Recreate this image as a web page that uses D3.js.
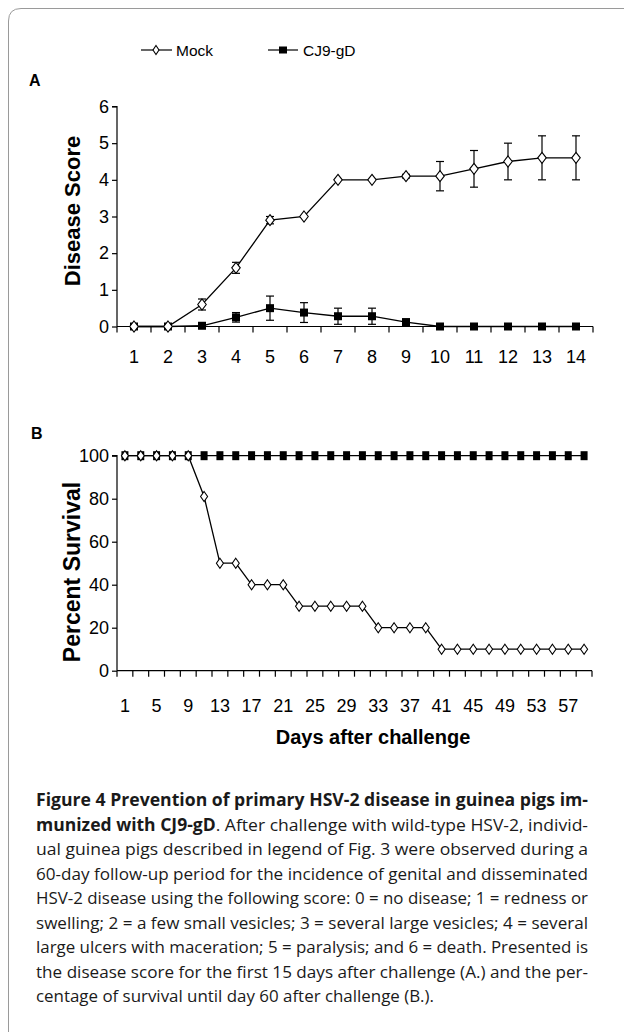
<!DOCTYPE html>
<html><head><meta charset="utf-8">
<script src="https://cdn.jsdelivr.net/npm/d3@7/dist/d3.min.js"></script>
<style>
html,body{margin:0;padding:0;background:#fff;}
svg{display:block;}
</style></head>
<body>
<svg id="c" width="624" height="1032"></svg>
<script>
// ---- Data ----
const seriesNames = ["Mock", "CJ9-gD"];
// Panel A: disease score, days 1-14
const daysA = [1,2,3,4,5,6,7,8,9,10,11,12,13,14];
const mockScore = [0,0,0.6,1.6,2.9,3.0,4.0,4.0,4.1,4.1,4.3,4.5,4.6,4.6];
const mockErr   = [0,0,0.15,0.15,0.1,0,0,0,0.05,0.4,0.5,0.5,0.6,0.6];
const cj9Score  = [0,0,0.02,0.25,0.5,0.38,0.28,0.28,0.12,0,0,0,0,0];
const cj9Err    = [0,0,0,0.13,0.33,0.27,0.22,0.22,0.08,0,0,0,0,0];
const yTicksA = [0,1,2,3,4,5,6];
// Panel B: percent survival, every other day 1-59
const daysB = [1,3,5,7,9,11,13,15,17,19,21,23,25,27,29,31,33,35,37,39,41,43,45,47,49,51,53,55,57,59];
const mockSurv = [100,100,100,100,100,81,50,50,40,40,40,30,30,30,30,30,20,20,20,20,10,10,10,10,10,10,10,10,10,10];
const cj9Surv  = [100,100,100,100,100,100,100,100,100,100,100,100,100,100,100,100,100,100,100,100,100,100,100,100,100,100,100,100,100,100];
const xLabelsB = [1,5,9,13,17,21,25,29,33,37,41,45,49,53,57];
const yTicksB = [0,20,40,60,80,100];
const captionLines = [
  [{b:true,t:"Figure 4 Prevention of primary HSV-2 disease in guinea pigs im-"}],
  [{b:true,t:"munized with CJ9-gD"},{b:false,t:". After challenge with wild-type HSV-2, individ-"}],
  [{b:false,t:"ual guinea pigs described in legend of Fig. 3 were observed during a"}],
  [{b:false,t:"60-day follow-up period for the incidence of genital and disseminated"}],
  [{b:false,t:"HSV-2 disease using the following score: 0 = no disease; 1 = redness or"}],
  [{b:false,t:"swelling; 2 = a few small vesicles; 3 = several large vesicles; 4 = several"}],
  [{b:false,t:"large ulcers with maceration; 5 = paralysis; and 6 = death. Presented is"}],
  [{b:false,t:"the disease score for the first 15 days after challenge (A.) and the per-"}],
  [{b:false,t:"centage of survival until day 60 after challenge (B.)."}]
];

// ---- Drawing ----
const svg = d3.select("#c");
const F = "'Liberation Sans', Arial, Helvetica, sans-serif";

// frame
svg.append("path").attr("d","M8.5,1032 V21 Q8.5,8.5 21,8.5 H624")
  .attr("fill","none").attr("stroke","#9a9a9a").attr("stroke-width",1);

function diamond(g, x, y, w, h){
  g.append("path").attr("d",`M${x},${y-h/2} L${x+w/2},${y} L${x},${y+h/2} L${x-w/2},${y} Z`)
   .attr("fill","#fff").attr("stroke","#000").attr("stroke-width",1.1);
}
function square(g, x, y, w, h){
  g.append("rect").attr("x",x-w/2).attr("y",y-h/2).attr("width",w).attr("height",h).attr("fill","#000");
}

// legend
const lg = svg.append("g");
lg.append("line").attr("x1",141).attr("x2",172).attr("y1",50).attr("y2",50).attr("stroke","#000").attr("stroke-width",1.2);
diamond(lg,156,50,6,9);
lg.append("text").attr("x",176).attr("y",55.5).attr("font-family",F).attr("font-size",15.5).text(seriesNames[0]);
lg.append("line").attr("x1",268).attr("x2",298).attr("y1",50).attr("y2",50).attr("stroke","#000").attr("stroke-width",1.2);
square(lg,283,50,8,7);
lg.append("text").attr("x",303).attr("y",55.5).attr("font-family",F).attr("font-size",15.5).text(seriesNames[1]);

// panel labels
svg.append("text").attr("x",29).attr("y",86).attr("font-family",F).attr("font-weight","bold").attr("font-size",16).text("A");
svg.append("text").attr("x",31).attr("y",439).attr("font-family",F).attr("font-weight","bold").attr("font-size",16).text("B");

// ===== Panel A =====
const xA = d3.scaleBand().domain(daysA).range([117,593]).padding(0);
const yA = d3.scaleLinear().domain([0,6]).range([326.5,106.5]);
const gA = svg.append("g");
// y axis
const yAxisA = d3.axisLeft(yA).tickValues(yTicksA).tickSize(5).tickPadding(3).tickFormat(d3.format("d"));
gA.append("g").attr("transform",`translate(${xA.range()[0]},0)`).call(yAxisA)
  .call(g=>{g.select(".domain").attr("d",`M-5,${yA(6)}H0V${yA(0)}`);})
  .call(g=>g.selectAll("text").attr("font-family",F).attr("font-size",18).attr("fill","#000"))
  .call(g=>g.selectAll("line,path").attr("stroke","#000").attr("stroke-width",1.2));
// x axis
const gxA = gA.append("g");
gxA.append("line").attr("x1",xA.range()[0]).attr("x2",xA.range()[1]).attr("y1",yA(0)).attr("y2",yA(0)).attr("stroke","#000").attr("stroke-width",1.2);
const bndA = daysA.map(d=>xA(d)).concat([xA.range()[1]]);
gxA.selectAll("line.t").data(bndA).join("line").attr("class","t")
  .attr("x1",d=>d).attr("x2",d=>d).attr("y1",yA(0)).attr("y2",yA(0)+6).attr("stroke","#000").attr("stroke-width",1.2);
gxA.selectAll("text").data(daysA).join("text")
  .attr("x",d=>xA(d)+xA.bandwidth()/2).attr("y",363).attr("text-anchor","middle")
  .attr("font-family",F).attr("font-size",18).text(d=>d);
// y title
svg.append("text").attr("transform",`translate(80,211) rotate(-90)`).attr("text-anchor","middle")
  .attr("font-family",F).attr("font-weight","bold").attr("font-size",22).text("Disease Score");

const cx = d=>xA(d)+xA.bandwidth()/2;
function errBars(g, vals, errs){
  daysA.forEach((d,i)=>{
    if(errs[i]<=0) return;
    const x=cx(d), y1=yA(vals[i]+errs[i]), y2=yA(Math.max(0,vals[i]-errs[i]));
    g.append("line").attr("x1",x).attr("x2",x).attr("y1",y1).attr("y2",y2).attr("stroke","#000").attr("stroke-width",1.2);
    [y1,y2].forEach(yy=>g.append("line").attr("x1",x-4).attr("x2",x+4).attr("y1",yy).attr("y2",yy).attr("stroke","#000").attr("stroke-width",1.2));
  });
}
const lineA = d3.line().x((d,i)=>cx(daysA[i])).y(d=>yA(d));
// CJ9 series
errBars(gA, cj9Score, cj9Err);
gA.append("path").attr("d",lineA(cj9Score)).attr("fill","none").attr("stroke","#000").attr("stroke-width",1.3);
cj9Score.forEach((v,i)=>square(gA,cx(daysA[i]),yA(v),8,8));
// Mock series
errBars(gA, mockScore, mockErr);
gA.append("path").attr("d",lineA(mockScore)).attr("fill","none").attr("stroke","#000").attr("stroke-width",1.3);
mockScore.forEach((v,i)=>diamond(gA,cx(daysA[i]),yA(v),8.5,11));

// ===== Panel B =====
const xB = d3.scaleBand().domain(daysB).range([117,592]).padding(0);
const yB = d3.scaleLinear().domain([0,100]).range([670.7,455.7]);
const gB = svg.append("g");
const yAxisB = d3.axisLeft(yB).tickValues(yTicksB).tickSize(5).tickPadding(3).tickFormat(d3.format("d"));
gB.append("g").attr("transform",`translate(${xB.range()[0]},0)`).call(yAxisB)
  .call(g=>{g.select(".domain").attr("d",`M-5,${yB(100)}H0V${yB(0)}`);})
  .call(g=>g.selectAll("text").attr("font-family",F).attr("font-size",18).attr("fill","#000"))
  .call(g=>g.selectAll("line,path").attr("stroke","#000").attr("stroke-width",1.2));
const gxB = gB.append("g");
gxB.append("line").attr("x1",xB.range()[0]).attr("x2",xB.range()[1]).attr("y1",yB(0)).attr("y2",yB(0)).attr("stroke","#000").attr("stroke-width",1.2);
const bndB = daysB.map(d=>xB(d)).concat([xB.range()[1]]);
gxB.selectAll("line.t").data(bndB).join("line").attr("class","t")
  .attr("x1",d=>d).attr("x2",d=>d).attr("y1",yB(0)).attr("y2",yB(0)+6).attr("stroke","#000").attr("stroke-width",1.2);
gxB.selectAll("text").data(xLabelsB).join("text")
  .attr("x",d=>xB(d)+xB.bandwidth()/2).attr("y",712).attr("text-anchor","middle")
  .attr("font-family",F).attr("font-size",18).text(d=>d);
svg.append("text").attr("x",373).attr("y",744).attr("text-anchor","middle")
  .attr("font-family",F).attr("font-weight","bold").attr("font-size",20).text("Days after challenge");
svg.append("text").attr("transform",`translate(80,572) rotate(-90)`).attr("text-anchor","middle")
  .attr("font-family",F).attr("font-weight","bold").attr("font-size",23).text("Percent Survival");

const cxB = d=>xB(d)+xB.bandwidth()/2;
const lineB = d3.line().x((d,i)=>cxB(daysB[i])).y(d=>yB(d));
gB.append("path").attr("d",lineB(cj9Surv)).attr("fill","none").attr("stroke","#000").attr("stroke-width",1.3);
cj9Surv.forEach((v,i)=>square(gB,cxB(daysB[i]),yB(v),7,9));
gB.append("path").attr("d",lineB(mockSurv)).attr("fill","none").attr("stroke","#000").attr("stroke-width",1.3);
mockSurv.forEach((v,i)=>diamond(gB,cxB(daysB[i]),yB(v),7,10));

// ===== Caption =====
const CF = "'Open Sans','Noto Sans', sans-serif";
const capX = 36, capW = 552, capY0 = 806, capDY = 24.5;
const texts = [];
captionLines.forEach((parts,li)=>{
  const t = svg.append("text").attr("x",capX).attr("y",capY0+li*capDY)
    .attr("font-family",CF).attr("font-size",17).attr("fill","#1a1a1a");
  parts.forEach(p=>t.append("tspan").attr("font-weight",p.b?"bold":"normal").text(p.t));
  texts.push(t);
});
let f = Infinity;
texts.forEach((t,i)=>{ if(i<texts.length-1){ const w=t.node().getComputedTextLength(); f=Math.min(f,capW/w);} });
texts.forEach((t,i)=>{
  const w=t.node().getComputedTextLength();
  const L = i<texts.length-1 ? capW : w*f;
  t.attr("textLength",L).attr("lengthAdjust","spacingAndGlyphs");
});
</script>
</body></html>
